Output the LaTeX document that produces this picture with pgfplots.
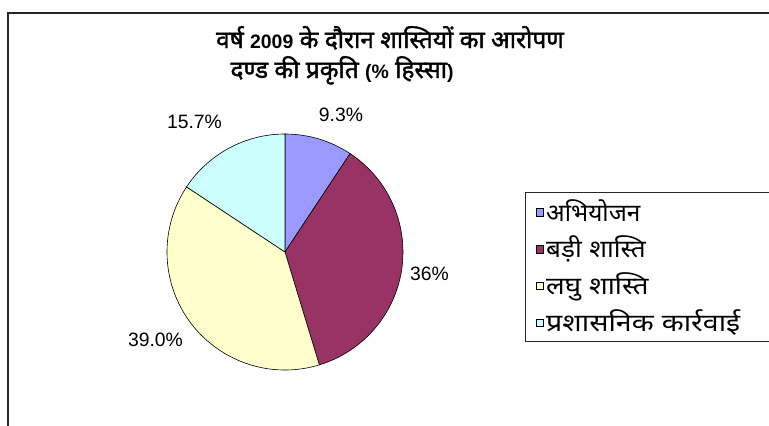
\documentclass[border=0pt]{standalone}
\usepackage{fontspec}
\setmainfont{Liberation Sans}
\newfontfamily\deva[Script=Devanagari]{Noto Sans}
\newfontfamily\devab[Script=Devanagari,FakeBold=1.6]{Noto Sans}
\newfontfamily\latb{Liberation Sans Bold}
\usepackage{graphicx}
\usepackage{pgfplots}
\pgfplotsset{compat=1.18}
\definecolor{cA}{HTML}{9999FF}
\definecolor{cB}{HTML}{993366}
\definecolor{cC}{HTML}{FFFFCC}
\definecolor{cD}{HTML}{CCFFFF}
% data (percent share)
\def\vA{9.3}
\def\vB{36}
\def\vC{39.0}
\def\vD{15.7}
\pgfmathsetmacro\aO{90}
\pgfmathsetmacro\aA{\aO-3.6*\vA}
\pgfmathsetmacro\aB{\aA-3.6*\vB}
\pgfmathsetmacro\aC{\aB-3.6*\vC}
\pgfmathsetmacro\aD{\aC-3.6*\vD}
\newcommand\legentry[5]{%
  \filldraw[fill=#3,draw=black,line width=0.5bp] (axis cs:535.8,#1-3.8) rectangle (axis cs:543.4,#1+3.8);
  \node[inner sep=0,anchor=base west,font=\deva\fontsize{24.5}{26}\selectfont] at (axis cs:546,#2) {\scalebox{#5}[1]{#4}};}
\newcommand\ws{\hspace{7bp}}
\newcommand\tl[1]{{\latb\fontsize{19.5}{22}\selectfont #1}}
\begin{document}
\begin{tikzpicture}
\useasboundingbox (0,0) rectangle (769bp,426bp);
\begin{axis}[x=1bp,y=1bp,xmin=0,xmax=769,ymin=0,ymax=426,hide axis,scale only axis,clip=false,anchor=south west,at={(0,0)}]
\addplot[draw=none,forget plot] coordinates {(0,0) (769,426)};
% frame
\draw[line width=1.4bp,black!85] (axis cs:8,-20) -- (axis cs:8,413) -- (axis cs:800,413);
% pie
\filldraw[fill=cA,draw=black,line width=0.6bp] (axis cs:285,174) -- ++(\aO:118bp) arc[start angle=\aO,end angle=\aA,radius=118bp] -- cycle;
\filldraw[fill=cB,draw=black,line width=0.6bp] (axis cs:285,174) -- ++(\aA:118bp) arc[start angle=\aA,end angle=\aB,radius=118bp] -- cycle;
\filldraw[fill=cC,draw=black,line width=0.6bp] (axis cs:285,174) -- ++(\aB:118bp) arc[start angle=\aB,end angle=\aC,radius=118bp] -- cycle;
\filldraw[fill=cD,draw=black,line width=0.6bp] (axis cs:285,174) -- ++(\aC:118bp) arc[start angle=\aC,end angle=\aD,radius=118bp] -- cycle;
% labels
\node[inner sep=0,font=\fontsize{19.4}{22}\selectfont] at (axis cs:341,311) {9.3\%};
\node[inner sep=0,font=\fontsize{19.4}{22}\selectfont] at (axis cs:429.5,152) {36\%};
\node[inner sep=0,font=\fontsize{19.4}{22}\selectfont] at (axis cs:155.5,86) {39.0\%};
\node[inner sep=0,font=\fontsize{19.4}{22}\selectfont] at (axis cs:194.5,304) {15.7\%};
% title
\node[inner sep=0,anchor=base,font=\devab\fontsize{24.5}{27}\selectfont] at (axis cs:390,378) {वर्ष \tl{2009} के दौरान शास्तियों का आरोपण};
\node[inner sep=0,anchor=base,font=\devab\fontsize{24.5}{27}\selectfont] at (axis cs:342,348) {दण्ड की प्रकृति \tl{(\%} हिस्सा\tl{)}};
% legend
\draw[line width=1bp,black!85] (axis cs:525.5,233) rectangle (axis cs:800,84);
\legentry{213.5}{205}{cA}{अभियोजन}{1}
\legentry{176.8}{168.3}{cB}{बड़ी\ws शास्ति}{1.07}
\legentry{140.1}{131.6}{cC}{लघु\ws शास्ति}{1.13}
\legentry{103.4}{95}{cD}{प्रशासनिक\ws कार्रवाई}{1.17}
\end{axis}
\end{tikzpicture}
\end{document}
